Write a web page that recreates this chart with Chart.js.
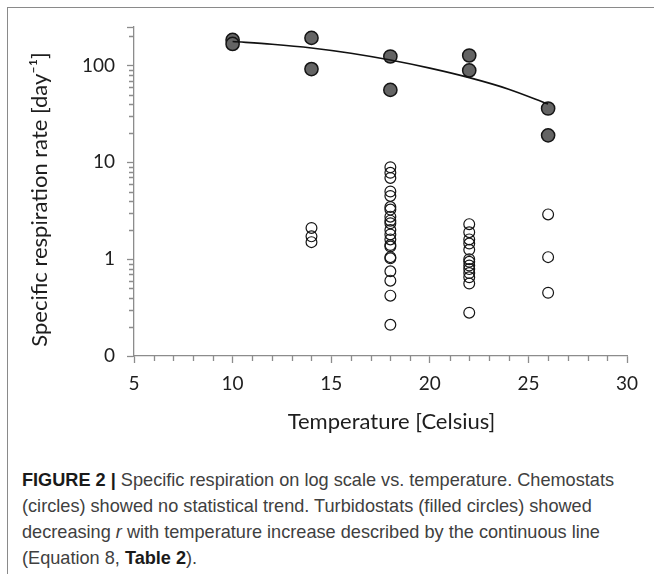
<!DOCTYPE html>
<html>
<head>
<meta charset="utf-8">
<script src="https://cdn.jsdelivr.net/npm/chart.js@4.4.1/dist/chart.umd.min.js"></script>
<style>
  html, body { margin: 0; padding: 0; background: #fff; width: 654px; height: 574px; overflow: hidden; }
  #frame { position: absolute; left: 7px; top: 7px; width: 660px; height: 580px;
           border-top: 1.5px solid #8a8a8a; border-left: 1.5px solid #8a8a8a; box-sizing: border-box; }
  #wrap { position: absolute; left: 0; top: 0; width: 654px; height: 440px; }
  #caption { position: absolute; left: 22px; top: 467px; font-family: "Liberation Sans Narrow", "Liberation Sans", Arial, sans-serif;
             font-size: 19px; line-height: 26px; color: #404040; white-space: nowrap;
             transform: scaleX(0.955); transform-origin: 0 0; }
  #caption b { color: #1a1a1a; }
</style>
</head>
<body>
<div id="frame"></div>
<div id="wrap"><canvas id="c" width="654" height="440"></canvas></div>
<div id="caption">
  <b>FIGURE 2 |</b> Specific respiration on log scale vs. temperature. Chemostats<br>
  (circles) showed no statistical trend. Turbidostats (filled circles) showed<br>
  decreasing <i>r</i> with temperature increase described by the continuous line<br>
  (Equation 8, <b>Table 2</b>).
</div>
<script>
// ---- data ----
const turbidoTemp = [10, 10, 14, 14, 18, 18, 22, 22, 26, 26];
const turbidoRate = [184, 167, 193, 92, 124, 56, 127, 89, 36, 19];

const chemoTemp = [
  14, 14, 14,
  18, 18, 18, 18, 18, 18, 18, 18, 18, 18, 18, 18, 18, 18, 18, 18, 18, 18, 18, 18, 18,
  22, 22, 22, 22, 22, 22, 22, 22, 22, 22, 22, 22, 22,
  26, 26, 26
];
const chemoRate = [
  2.1, 1.72, 1.5,
  8.9, 7.8, 6.9, 5.0, 4.5, 3.45, 3.25, 2.75, 2.5, 2.35, 2.0, 1.8, 1.6, 1.4, 1.35, 1.05, 1.02, 0.75, 0.6, 0.42, 0.21,
  2.3, 1.9, 1.6, 1.45, 1.25, 1.0, 0.94, 0.86, 0.79, 0.72, 0.65, 0.56, 0.28,
  2.9, 1.05, 0.45
];

const fitTemp = [10, 12, 14, 16, 18, 20, 22, 24, 26];
const fitRate = [177, 166, 152, 134, 114, 94, 75, 57, 40];

const xTickValues = [5, 10, 15, 20, 25, 30];
const yTickValues = [0.1, 1, 10, 100];
const yTickLabels = ['0', '1', '10', '100'];
const yMin = 0.1, yMax = 250;

const xTitle = 'Temperature [Celsius]';
const yTitle = 'Specific respiration rate [day\u207B\u00B9]';

// ---- build ----
const toPts = (xs, ys) => xs.map((x, i) => ({ x: x, y: ys[i] }));
const axisColor = '#8c8c8c';
const textColor = '#1e1e1e';
const titleFont = '22px Lato';

const extras = {
  id: 'extras',
  afterDraw(chart) {
    const ctx = chart.ctx, xs = chart.scales.x, ys = chart.scales.y;
    ctx.save();
    // minor tick marks
    ctx.strokeStyle = axisColor;
    ctx.lineWidth = 1.3;
    ctx.beginPath();
    for (let v = xs.min + 1; v < xs.max; v++) {
      if (v % 5 === 0) continue;
      const px = Math.round(xs.getPixelForValue(v)) + 0.5;
      ctx.moveTo(px, ys.bottom);
      ctx.lineTo(px, ys.bottom + 5);
    }
    for (let d = 0.1; d < yMax; d *= 10) {
      for (let m = 2; m <= 9; m++) {
        const v = d * m;
        if (v >= yMax) break;
        const py = Math.round(ys.getPixelForValue(v)) + 0.5;
        ctx.moveTo(xs.left - 5, py);
        ctx.lineTo(xs.left, py);
      }
    }
    ctx.stroke();
    // axis titles
    ctx.fillStyle = textColor;
    ctx.font = titleFont;
    ctx.textAlign = 'center';
    ctx.textBaseline = 'middle';
    ctx.fillText(xTitle, (xs.left + xs.right) / 2 + 11, ys.bottom + 66);
    ctx.translate(40, (ys.top + ys.bottom) / 2 + 8);
    ctx.rotate(-Math.PI / 2);
    ctx.fillText(yTitle, 0, 0);
    ctx.restore();
  }
};

new Chart(document.getElementById('c'), {
  type: 'scatter',
  data: {
    datasets: [
      {
        type: 'line',
        label: 'fit',
        data: toPts(fitTemp, fitRate),
        borderColor: '#111',
        borderWidth: 1.6,
        pointRadius: 0,
        fill: false,
        tension: 0.4,
        cubicInterpolationMode: 'monotone',
        order: 0
      },
      {
        label: 'Turbidostats',
        data: toPts(turbidoTemp, turbidoRate),
        pointRadius: 6.6,
        pointBackgroundColor: '#646464',
        pointBorderColor: '#151515',
        pointBorderWidth: 1.5,
        order: 1
      },
      {
        label: 'Chemostats',
        data: toPts(chemoTemp, chemoRate),
        pointRadius: 5.4,
        pointBackgroundColor: 'rgba(255,255,255,0)',
        pointBorderColor: '#151515',
        pointBorderWidth: 1.2,
        order: 2
      }
    ]
  },
  options: {
    responsive: false,
    animation: false,
    devicePixelRatio: 1,
    layout: { padding: { top: 27, right: 27, left: 0, bottom: 0 } },
    plugins: { legend: { display: false }, tooltip: { enabled: false } },
    scales: {
      x: {
        type: 'linear',
        min: 5, max: 30,
        afterFit(scale) { scale.height = 84; },
        afterBuildTicks(scale) { scale.ticks = xTickValues.map(v => ({ value: v })); },
        grid: { drawOnChartArea: false, drawTicks: true, tickLength: 7, tickColor: axisColor, tickWidth: 1.3 },
        border: { display: true, color: axisColor, width: 1.3 },
        ticks: { color: textColor, font: { family: 'Lato', size: 19 }, padding: 9, maxRotation: 0, autoSkip: false },
        title: { display: false }
      },
      y: {
        type: 'logarithmic',
        min: yMin, max: yMax,
        afterFit(scale) { scale.width = 134; },
        afterBuildTicks(scale) { scale.ticks = yTickValues.concat([yMax]).map(v => ({ value: v })); },
        grid: { drawOnChartArea: false, drawTicks: true, tickLength: 7, tickColor: axisColor, tickWidth: 1.3 },
        border: { display: true, color: axisColor, width: 1.3 },
        ticks: {
          color: textColor, font: { family: 'Lato', size: 19 }, padding: 12, autoSkip: false,
          callback(value) { const i = yTickValues.indexOf(value); return i >= 0 ? yTickLabels[i] : ''; }
        },
        title: { display: false }
      }
    }
  },
  plugins: [extras]
});
</script>
</body>
</html>
